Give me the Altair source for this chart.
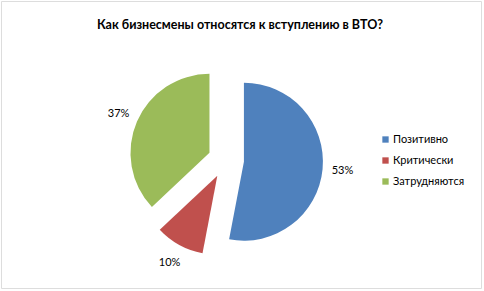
import altair as alt
import pandas as pd

title_text = "Как бизнесмены относятся к вступлению в ВТО?"
categories = ["Позитивно", "Критически", "Затрудняются"]
values = [53, 10, 37]
colors = ["#4F81BD", "#C0504D", "#9BBB59"]

df = pd.DataFrame({"cat": categories, "val": values, "ord": [0, 1, 2]})

CX, CY = 225, 159      # pie centre (plot px)
EXPLODE = 18
LABEL_R = 117
FONT = "Lato"

base = alt.Chart(df).transform_window(
    cum="sum(val)", sort=[alt.SortField("ord")], frame=[None, 0]
).transform_joinaggregate(tot="sum(val)").transform_calculate(
    t1="datum.cum / datum.tot * 2 * PI",
    t0="(datum.cum - datum.val) / datum.tot * 2 * PI",
).transform_calculate(
    mid="(datum.t0 + datum.t1) / 2"
).transform_calculate(
    px=f"{CX} + {EXPLODE} * sin(datum.mid)",
    py=f"{CY} - {EXPLODE} * cos(datum.mid)",
    lx=f"{CX} + {LABEL_R} * sin(datum.mid)",
    ly=f"{CY} - {LABEL_R} * cos(datum.mid)",
    lab="datum.val + '%'",
)

arcs = base.mark_arc(outerRadius=79, strokeWidth=0).encode(
    x=alt.X("px:Q", scale=None),
    y=alt.Y("py:Q", scale=None),
    theta=alt.Theta("t0:Q", scale=None),
    theta2="t1:Q",
    color=alt.Color(
        "cat:N",
        scale=alt.Scale(domain=categories, range=colors),
        legend=alt.Legend(
            title=None,
            orient="none",
            legendX=379,
            legendY=133,
            symbolType="square",
            symbolSize=40,
            symbolStrokeWidth=0,
            labelFontSize=11,
            labelFont=FONT,
            labelColor="#000000",
            rowPadding=9,
            labelOffset=2,
        ),
    ),
)

labels = base.mark_text(fontSize=11, font=FONT, color="#000000").encode(
    x=alt.X("lx:Q", scale=None),
    y=alt.Y("ly:Q", scale=None),
    text="lab:N",
)

title = alt.Chart(pd.DataFrame({"t": [title_text]})).mark_text(
    fontSize=12.5, fontWeight="bold", font=FONT, color="#000000"
).encode(x=alt.value(239), y=alt.value(24), text="t:N")

chart = alt.layer(arcs, labels, title).properties(
    width=480, height=287,
    padding={"left": 1, "top": 1, "right": 3, "bottom": 3},
    autosize=alt.AutoSizeParams(type="none"),
).configure_view(stroke="#A6A6A6", strokeWidth=1.5).configure(background="white")

chart.save("out.html", embed_options={"renderer": "svg", "actions": False})
